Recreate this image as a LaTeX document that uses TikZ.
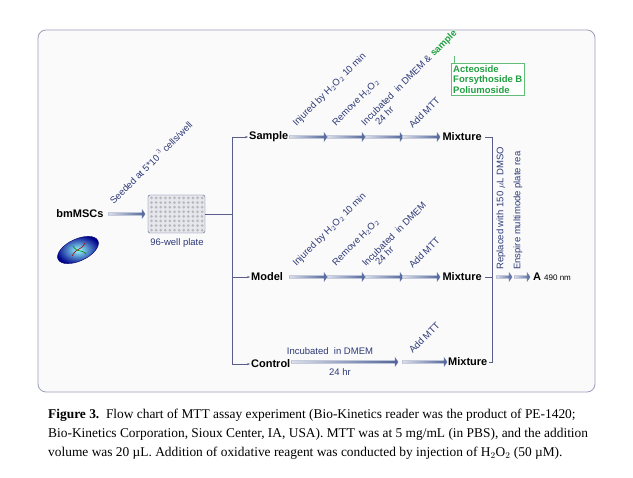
\documentclass[tikz,border=0pt]{standalone}
\usepackage{fontspec}
\setmainfont{Liberation Serif}
\setsansfont{Liberation Sans}
\usetikzlibrary{shapes.arrows,shapes.geometric,arrows.meta}
\definecolor{ln}{HTML}{5A5E8C}
\definecolor{ab}{HTML}{4F6399}
\definecolor{tb}{HTML}{2E3A78}
\definecolor{gr}{HTML}{20A040}
\begin{document}
\begin{tikzpicture}[x=1pt,y=-1pt,font=\sffamily,
 fat/.style={single arrow,draw=ab!80,line width=0.3pt,left color=ab!20,right color=ab,minimum height=#1,minimum width=9,single arrow head extend=2,single arrow tip angle=110,inner sep=0.6,shape border rotate=0,anchor=west},
 lab/.style={font=\sffamily\bfseries\fontsize{11}{12}\selectfont},
 rot/.style={font=\sffamily\fontsize{9.5}{8.5}\selectfont,text=tb,rotate=45,anchor=south west,inner sep=0.5,align=center},
 con/.style={draw=ln,line width=0.7pt},
 tip/.style={con,-{Stealth[length=3pt]}}]
\useasboundingbox (0,0) rectangle (633,478);
\fill[white] (0,0) rectangle (633,478);
\draw[draw=ln!60,fill=gray!4,line width=0.8pt,rounded corners=8] (38,30) rectangle (595,392);
% left
\node[lab] (bm) at (80,214) {bmMSCs};
\node[fat=37] (a0) at (108,214) {};
\node[rot,anchor=south west] at (114,206) {Seeded at 5*10$^{\,3}$ cells/well};
\node[draw=ln,fill=ln!15,rounded corners=1.5,minimum width=57,minimum height=38,inner sep=0] (plate) at (176.5,214) {};
\foreach \i in {0,...,11}{\foreach \j in {0,...,7}{\fill[gray!55] (151.5+\i*4.6,198+\j*4.6) circle (1.5);}}
\node[font=\sffamily\fontsize{9.5}{10}\selectfont,text=tb] at (177,243) {96-well plate};
\node[ellipse,minimum width=44,minimum height=22,rotate=25,inner color=cyan!40,outer color=blue!55!black,draw=blue!40!black] (cell) at (78,250) {};
\draw[red!70!black,line width=0.6pt] (72,256) .. controls (78,246) and (80,252) .. (85,243);
\draw[green!50!black,line width=0.6pt] (73,246) .. controls (78,254) and (80,248) .. (86,254);
% branches
\coordinate (br) at (232,214);
\draw[con] (plate.east) -- (br);
\draw[con] (232,137) -- (232,364);
\node[lab,anchor=west,inner sep=1] (s) at (248,137) {Sample};
\node[lab,anchor=west,inner sep=1] (m) at (250,277) {Model};
\node[lab,anchor=west,inner sep=1] (c) at (250,364) {Control};
\draw[tip] (232,137) -- (s.west);
\draw[tip] (232,277) -- (m.west);
\draw[tip] (232,364) -- (c.west);
\foreach \y/\n in {137/s,277/m}{
 \node[fat=38] at (289,\y) {};
 \node[fat=38] at (327,\y) {};
 \node[fat=38] at (365,\y) {};
 \node[fat=38] at (402,\y) {};
 \node[rot] at (298,\y-8) {Injured by H$_2$O$_2$ 10 min};
 \node[rot] at (337,\y-9) {Remove H$_2$O$_2$};
 \node[rot] at (413,\y-7) {Add MTT};
}
\node[rot,align=left] at (372,134) {Incubated \ in DMEM \& \textcolor{gr}{\bfseries sample}\\\hspace{10pt}24 hr};
\node[rot,align=left] at (372,274) {Incubated \ in DMEM\\\hspace{10pt}24 hr};
\node[lab,anchor=west] (x1) at (439,137) {Mixture};
\node[lab,anchor=west] (x2) at (439,277) {Mixture};
\node[fat=107] at (291,362) {};
\node[fat=45] at (402,362) {};
\node[font=\sffamily\fontsize{9.5}{10}\selectfont,text=tb] at (330,351) {Incubated \ in DMEM};
\node[font=\sffamily\fontsize{9.5}{10}\selectfont,text=tb] at (340,372) {24 hr};
\node[rot] at (413,355) {Add MTT};
\node[lab,anchor=west,inner sep=1] (x3) at (447,362) {Mixture};
\draw[con] (x1.east) -- (492,137) -- (492,362) -- (x3.east);
\draw[con] (x2.east) -- (492,277);
\node[fat=16] at (496,277) {};
\node[fat=16] at (514,277) {};
\node[lab,anchor=west,inner sep=0] (A) at (533,277) {A \fontsize{8}{9}\selectfont\mdseries 490 nm};
\node[font=\sffamily\fontsize{9.5}{10}\selectfont,text=tb,rotate=90,anchor=west,inner sep=0] at (501,270) {Replaced with 150 $\mu$L DMSO};
\node[font=\sffamily\fontsize{9.5}{10}\selectfont,text=tb,rotate=90,anchor=west,inner sep=0] at (518,270) {Enspire multimode plate rea};
% green box
\node[draw=gr!70,fill=white,align=left,text=gr,font=\sffamily\bfseries\fontsize{9.5}{10.5}\selectfont,inner sep=2,anchor=north west] (gb) at (451,63) {Acteoside\\Forsythoside B\\Poliumoside};
\draw[gr!70,line width=0.4pt] (gb.north west) ++(3,0) -- ++(0,-7);
% caption
\node[anchor=north west,align=left,font=\fontsize{13.4}{19}\selectfont,inner sep=0] (cap) at (48,409) {\textbf{Figure 3.}\ \ Flow chart of MTT assay experiment (Bio-Kinetics reader was the product of PE-1420;\\Bio-Kinetics Corporation, Sioux Center, IA, USA). MTT was at 5 mg/mL (in PBS), and the addition\\volume was 20 \textmu L. Addition of oxidative reagent was conducted by injection of H$_2$O$_2$ (50 \textmu M).};
\end{tikzpicture}
\end{document}
